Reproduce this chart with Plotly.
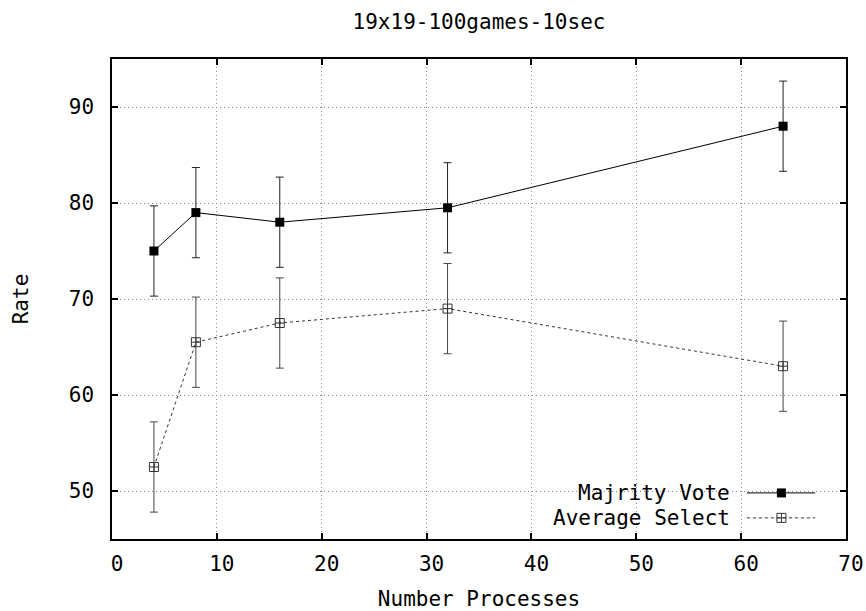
import plotly.graph_objects as go

# ---- data ----
processes = [4, 8, 16, 32, 64]
majority_vote = [75.0, 79.0, 78.0, 79.5, 88.0]
majority_err = [4.7, 4.7, 4.7, 4.7, 4.7]
average_select = [52.5, 65.5, 67.5, 69.0, 63.0]
average_err = [4.7, 4.7, 4.7, 4.7, 4.7]
series_names = ["Majrity Vote", "Average Select"]

x_ticks = [0, 10, 20, 30, 40, 50, 60, 70]
y_ticks = [50, 60, 70, 80, 90]

FONT = "DejaVu Sans Mono"
FS = 21

fig = go.Figure()

fig.add_trace(go.Scatter(
    x=processes, y=majority_vote, mode="lines+markers",
    line=dict(color="black", width=1),
    marker=dict(symbol="square", size=9, color="black"),
    error_y=dict(type="data", array=majority_err, visible=True,
                 color="#222222", thickness=1, width=4),
    showlegend=False, name=series_names[0]))

fig.add_trace(go.Scatter(
    x=processes, y=average_select, mode="lines+markers",
    line=dict(color="#333333", width=1, dash="dot"),
    marker=dict(symbol="square-cross-open", size=9, color="#333333",
                line=dict(width=1)),
    error_y=dict(type="data", array=average_err, visible=True,
                 color="#444444", thickness=1, width=4),
    showlegend=False, name=series_names[1]))

# ---- custom legend (text left of key, gnuplot style) ----
leg_key_x = [0.865, 0.912, 0.958]
leg_rows_y = [0.096, 0.044]
fig.add_trace(go.Scatter(
    x=leg_key_x, y=[leg_rows_y[0]] * 3, xaxis="x2", yaxis="y2",
    mode="lines+markers", line=dict(color="black", width=1),
    marker=dict(symbol="square", size=9, color="black"),
    selectedpoints=[1], unselected=dict(marker=dict(opacity=0)),
    showlegend=False, hoverinfo="skip"))
fig.add_trace(go.Scatter(
    x=leg_key_x, y=[leg_rows_y[1]] * 3, xaxis="x2", yaxis="y2",
    mode="lines+markers", line=dict(color="#333333", width=1, dash="dot"),
    marker=dict(symbol="square-cross-open", size=9, color="#333333",
                line=dict(width=1)),
    selectedpoints=[1], unselected=dict(marker=dict(opacity=0)),
    showlegend=False, hoverinfo="skip"))

for name, yy in zip(series_names, leg_rows_y):
    fig.add_annotation(text=name, xref="paper", yref="paper", x=0.845, y=yy,
                       xanchor="right", yanchor="middle", showarrow=False,
                       font=dict(family=FONT, size=FS, color="black"))

fig.add_shape(type="rect", xref="paper", yref="paper",
              x0=0.556, x1=0.981, y0=0.004, y1=0.125,
              fillcolor="white", line=dict(width=0), layer="between")

axis_common = dict(
    showline=True, linecolor="black", linewidth=1.5, mirror="ticks",
    ticks="inside", ticklen=6, tickwidth=1.5, tickcolor="black",
    showgrid=True, gridcolor="#8a8a8a", griddash="1px,3px", gridwidth=1,
    zeroline=False, automargin=False,
    tickfont=dict(family=FONT, size=FS, color="black"),
)

fig.update_layout(
    width=866, height=611,
    margin=dict(l=112, r=20, t=59, b=72),
    paper_bgcolor="white", plot_bgcolor="white",
    title=dict(text="19x19-100games-10sec", xref="paper", x=0.5,
               xanchor="center", y=0.965, yanchor="middle",
               font=dict(family=FONT, size=FS, color="black")),
    xaxis=dict(range=[0, 70], tickvals=x_ticks, ticklabelshift=5,
               ticklabelstandoff=5,
               title=dict(text="Number Processes", standoff=18,
                          font=dict(family=FONT, size=FS, color="black")),
               **axis_common),
    yaxis=dict(range=[45, 95], tickvals=y_ticks, ticklabelstandoff=12,
               title=dict(text="Rate", standoff=34,
                          font=dict(family=FONT, size=FS, color="black")),
               **axis_common),
    xaxis2=dict(overlaying="x", range=[0, 1], visible=False),
    yaxis2=dict(overlaying="y", range=[0, 1], visible=False),
)

fig.write_html("out.html")
